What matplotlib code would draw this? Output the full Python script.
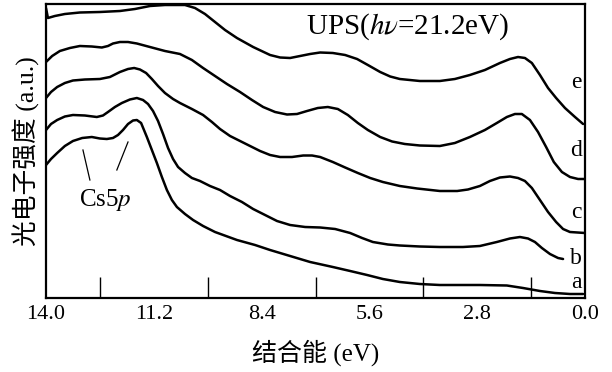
import matplotlib
matplotlib.use("Agg")
import matplotlib.pyplot as plt
from matplotlib.ticker import FixedLocator

plt.rcParams['mathtext.fontset'] = 'stix'
SERIF = ['Liberation Serif', 'DejaVu Serif']
MIXED = ['Liberation Serif', 'Noto Sans CJK SC', 'DejaVu Sans']

# Binding energy (eV) and intensity (a.u.) for each spectrum
be_e = [14.00, 13.95, 13.77, 13.51, 13.12, 12.60, 12.08, 11.69, 11.30, 10.91, 10.39, 10.13,
        9.87, 9.61, 9.35, 9.04, 8.62, 8.18, 7.92, 7.66, 7.40, 7.14, 6.88, 6.55, 6.23, 5.92,
        5.64, 5.32, 5.06, 4.81, 4.29, 3.77, 3.38, 2.99, 2.60, 2.21, 1.95, 1.74, 1.56, 1.38,
        1.17, 0.96, 0.75, 0.52, 0.26, 0.05]
int_e = [290, 280, 282, 284, 285.5, 286, 287, 289, 292, 293, 293, 290,
         284, 276, 268, 260, 251, 243, 240.5, 240, 242, 244, 245.5, 245, 243, 239,
         233, 226, 221.5, 219, 217, 217, 219, 223, 228, 235, 239, 241, 240, 235,
         223, 210, 200, 190, 181, 174]

be_d = [14.00, 13.84, 13.64, 13.38, 13.12, 12.81, 12.55, 12.39, 12.26, 12.08, 11.87, 11.64,
        11.30, 10.91, 10.52, 10.21, 9.92, 9.61, 9.30, 8.96, 8.65, 8.36, 8.05, 7.74, 7.48,
        7.22, 6.94, 6.68, 6.42, 6.16, 5.90, 5.64, 5.32, 5.01, 4.68, 4.29, 3.77, 3.38, 2.99,
        2.60, 2.29, 2.03, 1.82, 1.64, 1.43, 1.22, 1.01, 0.81, 0.60, 0.39, 0.18, 0.00]
int_d = [236, 242, 247, 250, 252, 251.5, 250.5, 252, 254.5, 256, 256, 254.5,
         251, 247, 244, 238, 230, 222, 214, 206, 198, 191, 186, 183.5, 184,
         187, 190, 191, 189, 183, 175, 168, 161, 156.5, 154, 152.5, 152, 155, 161,
         168, 175, 181, 184, 184, 178, 166, 151, 136, 126, 121, 119, 119]

be_c = [14.00, 13.87, 13.71, 13.51, 13.30, 12.99, 12.60, 12.34, 12.08, 11.87, 11.71, 11.56,
        11.40, 11.25, 11.09, 10.91, 10.70, 10.52, 10.21, 9.92, 9.69, 9.48, 9.22, 8.96, 8.70,
        8.44, 8.18, 7.92, 7.61, 7.32, 7.09, 6.88, 6.55, 6.23, 5.90, 5.58, 5.25, 4.81, 4.36,
        3.77, 3.32, 3.04, 2.73, 2.47, 2.21, 1.95, 1.74, 1.56, 1.38, 1.17, 0.96, 0.75, 0.57,
        0.39, 0.00]
int_c = [200, 206, 211, 215, 217.5, 218.5, 219, 221, 226, 229, 230, 228.5,
         225, 219, 212, 205, 199, 195, 189, 183, 176, 169, 162, 157, 152,
         147, 143, 141, 141, 142.5, 142.5, 141, 136, 130.5, 125, 120, 116, 112, 109.5,
         107, 107, 108.5, 112, 117, 120.5, 121.5, 120, 117, 110, 98, 86, 76, 69,
         66, 65]

be_b = [14.00, 13.87, 13.71, 13.51, 13.30, 12.99, 12.68, 12.52, 12.39, 12.21, 12.03, 11.82,
        11.64, 11.48, 11.35, 11.22, 11.09, 10.96, 10.83, 10.70, 10.57, 10.39, 10.21, 10.00,
        9.74, 9.48, 9.22, 8.91, 8.62, 8.31, 8.00, 7.66, 7.27, 6.88, 6.49, 6.10, 5.79, 5.51,
        5.12, 4.81, 4.29, 3.77, 3.17, 2.73, 2.29, 1.95, 1.69, 1.48, 1.30, 1.12, 0.91, 0.70,
        0.57]
int_b = [168, 174, 178, 181.5, 183, 182.5, 181, 182.5, 186, 191, 195, 198.5,
         200, 198, 194, 187, 177, 164, 150, 139, 131, 125, 120, 117,
         112, 108, 102, 96, 89, 83, 77, 73, 71, 70.5, 69, 65, 60, 56,
         53.5, 52.5, 51.5, 51, 51, 52, 56, 59.5, 61, 59.5, 56, 50, 44, 40,
         39]

be_a = [14.00, 13.87, 13.71, 13.51, 13.30, 13.06, 12.81, 12.60, 12.42, 12.26, 12.13, 12.00,
        11.87, 11.74, 11.64, 11.53, 11.38, 11.25, 11.12, 10.99, 10.86, 10.73, 10.60, 10.39,
        10.18, 9.92, 9.61, 9.04, 8.57, 8.18, 7.66, 7.14, 6.55, 6.10, 5.66, 5.25, 4.81, 4.29,
        3.77, 2.73, 2.03, 1.61, 1.17, 0.78, 0.39, 0.05]
int_a = [133, 139, 145, 152, 157, 160, 161, 159.5, 159, 160, 163, 168,
         174, 177.5, 178, 175, 161, 148, 135, 121, 108, 98, 91, 84,
         78, 72, 66, 58, 53, 48, 42, 36, 31, 27, 23, 19, 16, 14,
         13, 13, 12.5, 10, 7, 5, 4, 4]

curves = [(be_a, int_a), (be_b, int_b), (be_c, int_c), (be_d, int_d), (be_e, int_e)]
curve_labels = ['a', 'b', 'c', 'd', 'e']
label_y = [15, 40, 86, 148, 216]

major_ticks = [14.0, 11.2, 8.4, 5.6, 2.8, 0.0]
tick_labels = ['14.0', '11.2', '8.4', '5.6', '2.8', '0.0']
minor_ticks = [12.6, 11.2, 9.8, 8.4, 7.0, 5.6, 4.2, 2.8, 1.4]

fig = plt.figure(figsize=(6.12, 3.72), dpi=100)
ax = fig.add_axes([46 / 612, 74 / 372, 539 / 612, 294 / 372])

for be, inten in curves:
    ax.plot(be, inten, color='black', lw=1.8, solid_joinstyle='round', solid_capstyle='round')

ax.set_xlim(14.0, 0.0)
ax.set_ylim(0, 294)

ax.xaxis.set_major_locator(FixedLocator(major_ticks))
ax.set_xticklabels(tick_labels, fontfamily=SERIF, fontsize=16)
ax.xaxis.set_minor_locator(FixedLocator(minor_ticks))
ax.tick_params(axis='x', which='minor', direction='in', length=15, width=1.0)
ax.tick_params(axis='x', which='major', length=0, pad=5)
ax.set_yticks([])
for s in ax.spines.values():
    s.set_linewidth(1.6)

for lab, y in zip(curve_labels, label_y):
    ax.text(0.08, y, lab, fontfamily=SERIF, fontsize=17, ha='right', va='center')

ax.text(7.25, 271, r'UPS($h\nu$=21.2eV)', fontfamily=SERIF, fontsize=21, ha='left', va='center')
ax.text(12.47, 98, r'Cs5$p$', fontfamily=SERIF, fontsize=18, ha='center', va='center')
ax.plot([13.04, 12.86], [148, 118], color='black', lw=0.9)
ax.plot([11.87, 12.16], [156, 128], color='black', lw=0.9)

ax.set_xlabel('结合能 (eV)', fontfamily=MIXED, fontsize=18, labelpad=11)
ax.set_ylabel('光电子强度 (a.u.)', fontfamily=MIXED, fontsize=18.5, labelpad=4)

fig.savefig('out.png', dpi=100)
